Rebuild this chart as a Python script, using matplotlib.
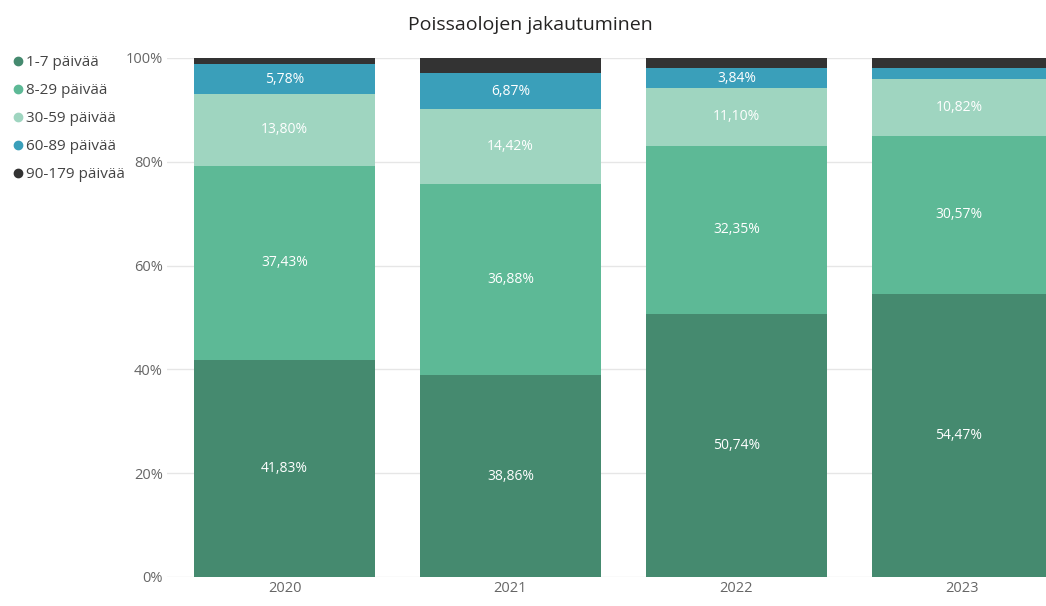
import matplotlib.pyplot as plt
from matplotlib.lines import Line2D

plt.rcParams['font.family'] = ['Open Sans', 'DejaVu Sans']

years = ['2020', '2021', '2022', '2023']
categories = ['1-7 päivää', '8-29 päivää', '30-59 päivää', '60-89 päivää', '90-179 päivää']
d_1_7 = [41.83, 38.86, 50.74, 54.47]
d_8_29 = [37.43, 36.88, 32.35, 30.57]
d_30_59 = [13.80, 14.42, 11.10, 10.82]
d_60_89 = [5.78, 6.87, 3.84, 2.24]
d_90_179 = [1.16, 2.97, 1.97, 1.90]
series = [d_1_7, d_8_29, d_30_59, d_60_89, d_90_179]
colors = ['#458A6F', '#5DB996', '#9FD5C0', '#3A9FBA', '#333333']

fig = plt.figure(figsize=(10.46, 6.06), dpi=100)
ax = fig.add_axes([0.1597, 0.0479, 0.8403, 0.8564])

x = list(range(len(years)))
bottom = [0.0] * len(years)
for vals, col in zip(series, colors):
    bars = ax.bar(x, vals, 0.8, bottom=bottom, color=col, zorder=2)
    # small segments and the darkest series carry no label
    labels = [('%.2f%%' % v).replace('.', ',') if v >= 3 and col != '#333333' else '' for v in vals]
    ax.bar_label(bars, labels=labels, label_type='center', color='white', fontsize=10)
    bottom = [b + v for b, v in zip(bottom, vals)]

ax.set_xlim(-0.52, 3.37)
ax.set_ylim(0, 100)
ax.set_yticks([0, 20, 40, 60, 80, 100])
ax.set_yticklabels(['0%', '20%', '40%', '60%', '80%', '100%'])
ax.set_xticks(x)
ax.set_xticklabels(years)
ax.tick_params(length=0, colors='#666666', labelsize=10.5, pad=3)
ax.grid(axis='y', color='#E6E6E6', linewidth=1, zorder=0)
for s in ax.spines.values():
    s.set_visible(False)

fig.text(0.507, 0.958, 'Poissaolojen jakautuminen', ha='center', va='center', fontsize=14, color='#252423')

handles = [Line2D([], [], marker='o', linestyle='', color=c, markersize=6) for c in colors]
fig.legend(handles, categories, loc='upper left', bbox_to_anchor=(0.0, 0.927), frameon=False,
           handletextpad=0.0, labelspacing=0.86, fontsize=11, labelcolor='#444444',
           handlelength=1.0, borderaxespad=0.3)

fig.savefig('out.png', dpi=100)
